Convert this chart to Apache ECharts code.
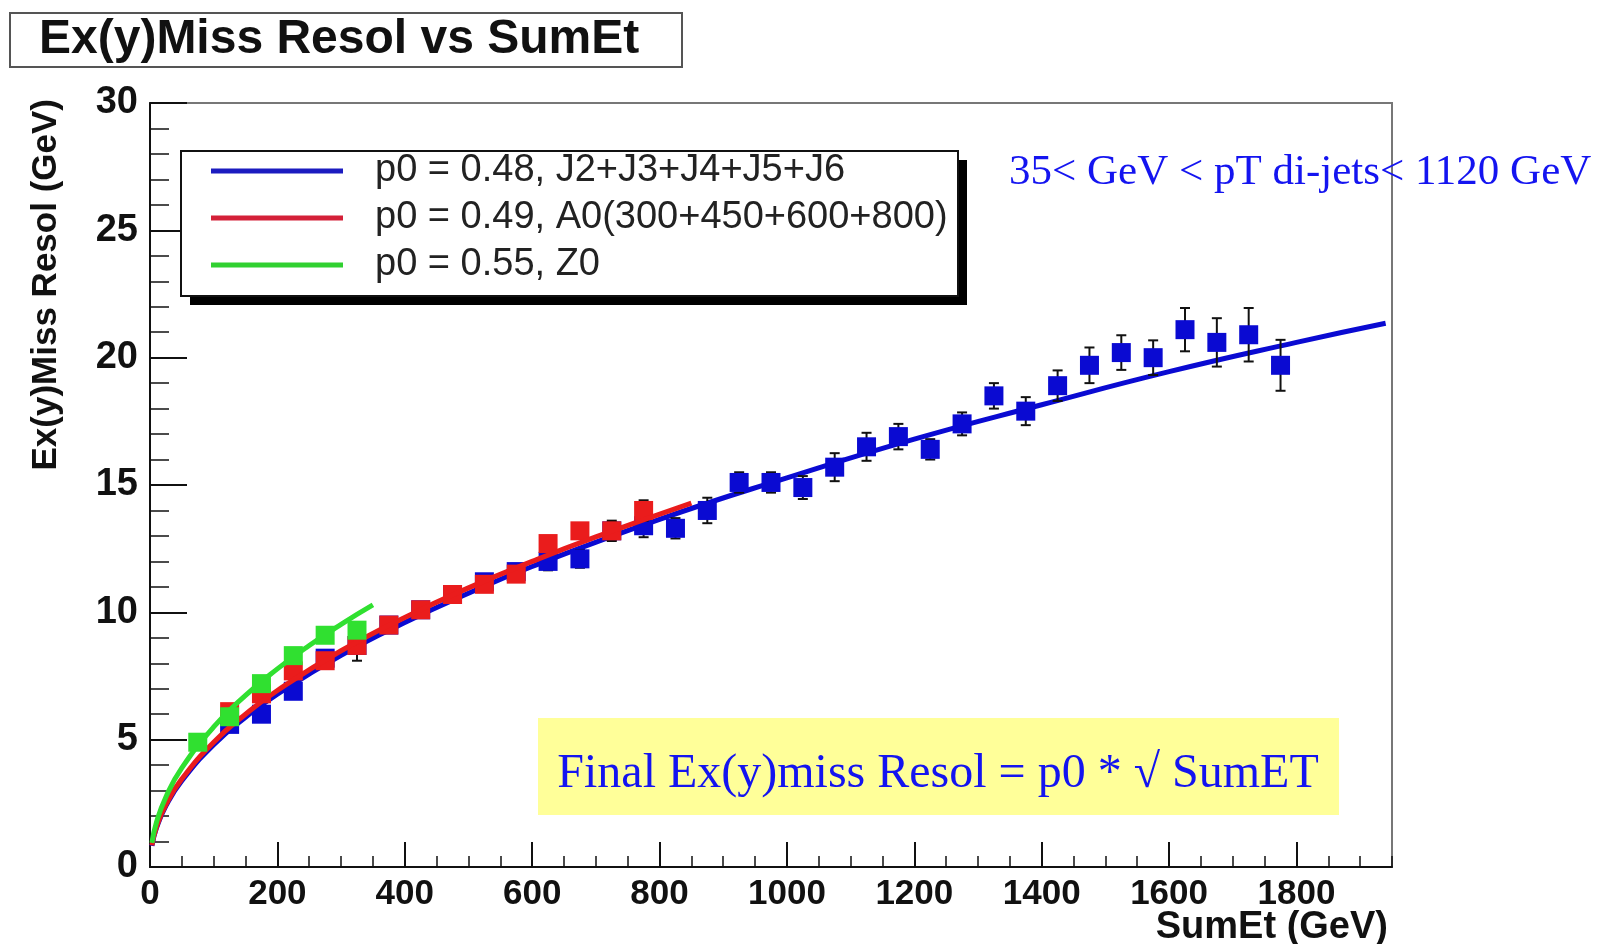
<!DOCTYPE html>
<html>
<head>
<meta charset="utf-8">
<script src="https://cdn.jsdelivr.net/npm/echarts@6/dist/echarts.min.js"></script>
<style>
html,body{margin:0;padding:0;background:#fff;}
#chart{width:1598px;height:944px;}
</style>
</head>
<body>
<div id="chart"></div>
<script>
// ---- data ----
const titleText = 'Ex(y)Miss Resol vs SumEt';
const xTitle = 'SumEt (GeV)';
const yTitle = 'Ex(y)Miss Resol (GeV)';
const rangeText = '35< GeV < pT di-jets< 1120 GeV';
const formulaText = 'Final Ex(y)miss Resol = p0 * \u221A SumET';
const legendNames = ['p0 = 0.48, J2+J3+J4+J5+J6', 'p0 = 0.49, A0(300+450+600+800)', 'p0 = 0.55, Z0'];

// J2..J6 (blue) points
const blueX = [125,175,225,275,325,375,425,475,525,575,625,675,725,775,825,875,925,975,1025,1075,1125,1175,1225,1275,1325,1375,1425,1475,1525,1575,1625,1675,1725,1775];
const blueY = [5.6,6.0,6.9,8.2,8.7,9.5,10.1,10.7,11.2,11.6,12.0,12.1,13.2,13.4,13.3,14.0,15.1,15.1,14.9,15.7,16.5,16.9,16.4,17.4,18.5,17.9,18.9,19.7,20.2,20.0,21.1,20.6,20.9,19.7];
const blueErr = [0.2,0.2,0.25,0.3,0.6,0.3,0.3,0.3,0.3,0.3,0.35,0.35,0.4,0.45,0.4,0.5,0.4,0.4,0.45,0.55,0.55,0.5,0.4,0.45,0.5,0.55,0.6,0.7,0.68,0.68,0.85,0.95,1.05,1.0];

// A0 (red) points
const redX = [125,175,225,275,325,375,425,475,525,575,625,675,725,775];
const redY = [6.1,6.8,7.7,8.1,8.7,9.5,10.1,10.7,11.1,11.5,12.7,13.2,13.2,14.0];
const redErr = [0.2,0.2,0.2,0.25,0.25,0.25,0.25,0.25,0.3,0.3,0.3,0.3,0.35,0.4];

// Z0 (green) points
const greenX = [75,125,175,225,275,325];
const greenY = [4.9,5.9,7.2,8.3,9.1,9.3];
const greenErr = [0.2,0.2,0.2,0.25,0.25,0.3];

// fitted curves
const blueFitX = [3,10,25,50,100,150,200,300,400,500,600,800,1000,1200,1400,1600,1800,1940];
const blueFitY = [0.83,1.52,2.4,3.39,4.8,5.88,6.79,8.31,9.6,10.75,11.8,13.65,15.28,16.8,18.15,19.45,20.6,21.35];
const redFitX = [3,10,25,50,100,150,200,300,400,500,600,700,850];
const redFitY = [0.85,1.55,2.45,3.46,4.9,6.0,6.93,8.49,9.8,10.96,12.0,12.96,14.29];
const greenFitX = [3,10,25,50,100,150,200,250,300,350];
const greenFitY = [0.95,1.74,2.75,3.89,5.5,6.74,7.78,8.7,9.53,10.29];

// ---- build ----
const SANS = "'Liberation Sans', Arial, Helvetica, sans-serif";
const SERIF = "'Liberation Serif', 'Times New Roman', serif";
const C_BLUE = '#0a0ad2', C_RED = '#ea1c1c', C_GREEN = '#30e030';
const C_BLUE_L = '#1c1cc0', C_RED_L = '#d42038', C_GREEN_L = '#30d030';

function pts(xs, ys){ return xs.map((x,i)=>[x, ys[i]]); }
function errs(xs, ys, es){ return xs.map((x,i)=>[x, ys[i], ys[i]-es[i], ys[i]+es[i]]); }

function errRender(params, api){
  const x = api.value(0), lo = api.value(2), hi = api.value(3);
  const a = api.coord([x, lo]), b = api.coord([x, hi]);
  const w = 5;
  const st = {stroke:'#111', lineWidth:2};
  return {type:'group', children:[
    {type:'line', shape:{x1:a[0], y1:a[1], x2:b[0], y2:b[1]}, style:st},
    {type:'line', shape:{x1:a[0]-w, y1:a[1], x2:a[0]+w, y2:a[1]}, style:st},
    {type:'line', shape:{x1:b[0]-w, y1:b[1], x2:b[0]+w, y2:b[1]}, style:st}
  ]};
}

const chart = echarts.init(document.getElementById('chart'));
const option = {
  backgroundColor:'#ffffff',
  animation:false,
  title:{
    text:titleText, left:10, top:13,
    borderColor:'#555', borderWidth:2,
    padding:[3,43,3,29],
    textStyle:{fontFamily:SANS, fontSize:48, fontWeight:'bold', color:'#111'}
  },
  legend:{
    orient:'vertical', left:181, top:149, z:6,
    padding:[3,4,10,30],
    itemWidth:132, itemHeight:5, itemGap:9,
    textStyle:{fontFamily:SANS, fontSize:38, color:'#222', padding:[0,0,0,27]},
    data:[
      {name:legendNames[0], icon:'rect', itemStyle:{color:C_BLUE_L}},
      {name:legendNames[1], icon:'rect', itemStyle:{color:C_RED_L}},
      {name:legendNames[2], icon:'rect', itemStyle:{color:C_GREEN_L}}
    ],
    selectedMode:false
  },
  grid:{left:150, top:103, width:1242, height:764, show:true, borderColor:'#777', borderWidth:2, backgroundColor:'#fff'},
  xAxis:[
    {type:'value', min:0, max:1950, interval:200, position:'bottom',
     axisLine:{show:true, lineStyle:{color:'#111', width:2}},
     axisTick:{show:true, inside:true, length:25, lineStyle:{color:'#111', width:2}},
     axisLabel:{show:true, margin:10, fontFamily:SANS, fontSize:35, fontWeight:'bold', color:'#111',
       showMaxLabel:false, formatter:(v)=>String(v)},
     splitLine:{show:false}},
    {type:'value', min:0, max:1950, interval:50, position:'bottom',
     axisLine:{show:false},
     axisTick:{show:true, inside:true, length:11, lineStyle:{color:'#111', width:1.5}},
     axisLabel:{show:false}, splitLine:{show:false}}
  ],
  yAxis:[
    {type:'value', min:0, max:30, interval:5, position:'left',
     axisLine:{show:true, lineStyle:{color:'#111', width:2}},
     axisTick:{show:true, inside:true, length:37, lineStyle:{color:'#111', width:2}},
     axisLabel:{show:true, margin:12, fontFamily:SANS, fontSize:38, fontWeight:'bold', color:'#111',
       formatter:(v)=>String(v)},
     splitLine:{show:false}},
    {type:'value', min:0, max:30, interval:1, position:'left', offset:0,
     axisLine:{show:false},
     axisTick:{show:true, inside:true, length:19, lineStyle:{color:'#111', width:1.5}},
     axisLabel:{show:false}, splitLine:{show:false}}
  ],
  graphic:[
    {type:'rect', shape:{x:190, y:160, width:777, height:145}, z:3, style:{fill:'#000'}},
    {type:'rect', shape:{x:181, y:151, width:777, height:145}, z:4, style:{fill:'#fff', stroke:'#111', lineWidth:2}},
    {type:'text', left:1009, top:151, z:10,
     style:{text:rangeText, font:'43px ' + SERIF, fill:'#1414f0'}},
    {type:'rect', shape:{x:538, y:718, width:801, height:97}, z:10,
     style:{fill:'#ffff99'}},
    {type:'text', x:938, y:774, z:11,
     style:{text:formulaText, font:'48px ' + SERIF, fill:'#1414f0', textAlign:'center', textVerticalAlign:'middle'}},
    {type:'text', x:46, y:99, rotation:Math.PI/2, z:10,
     style:{text:yTitle, font:'bold 35px ' + SANS, fill:'#111', textAlign:'right', textVerticalAlign:'middle'}},
    {type:'text', x:1388, y:928, z:10,
     style:{text:xTitle, font:'bold 38px ' + SANS, fill:'#111', textAlign:'right', textVerticalAlign:'middle'}}
  ],
  series:[
    {name:legendNames[0], type:'line', data:pts(blueFitX, blueFitY), smooth:true, showSymbol:false,
     color:C_BLUE_L, lineStyle:{color:C_BLUE, width:5}, z:2},
    {name:'J err', type:'custom', renderItem:errRender, data:errs(blueX, blueY, blueErr),
     encode:{x:0, y:[1,2,3]}, z:3},
    {name:'J2+J3+J4+J5+J6 points', type:'scatter', data:pts(blueX, blueY), symbol:'rect', symbolSize:19,
     itemStyle:{color:C_BLUE, opacity:1}, z:4},
    {name:'A0 err', type:'custom', renderItem:errRender, data:errs(redX, redY, redErr),
     encode:{x:0, y:[1,2,3]}, z:5},
    {name:'A0 points', type:'scatter', data:pts(redX, redY), symbol:'rect', symbolSize:19,
     itemStyle:{color:C_RED, opacity:1}, z:6},
    {name:legendNames[1], type:'line', data:pts(redFitX, redFitY), smooth:true, showSymbol:false,
     color:C_RED_L, lineStyle:{color:C_RED, width:5}, z:7},
    {name:'Z0 err', type:'custom', renderItem:errRender, data:errs(greenX, greenY, greenErr),
     encode:{x:0, y:[1,2,3]}, z:8},
    {name:'Z0 points', type:'scatter', data:pts(greenX, greenY), symbol:'rect', symbolSize:19,
     itemStyle:{color:C_GREEN, opacity:1}, z:9},
    {name:legendNames[2], type:'line', data:pts(greenFitX, greenFitY), smooth:true, showSymbol:false,
     color:C_GREEN_L, lineStyle:{color:C_GREEN, width:5}, z:9}
  ]
};
chart.setOption(option);
</script>
</body>
</html>
